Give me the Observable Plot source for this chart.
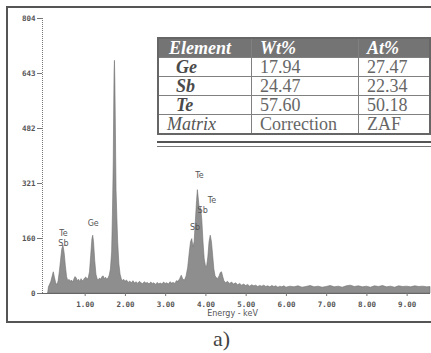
<!DOCTYPE html>
<html>
<head>
<meta charset="utf-8">
<script src="https://cdn.jsdelivr.net/npm/d3@7"></script>
<script src="https://cdn.jsdelivr.net/npm/@observablehq/plot@0.6"></script>
<style>
  html, body { margin: 0; padding: 0; background: #fff; }
  #wrap { position: relative; width: 431px; height: 353px; overflow: hidden; }
  #chart svg { display: block; }
  #tbl { position: absolute; left: 157px; top: 37px; border-collapse: collapse;
         font-family: "Liberation Serif", "Times New Roman", "DejaVu Serif", serif; font-size: 18px; color: #666;
         border: 2px solid #666; background: #fff; }
  #tbl td, #tbl th { border: 1px solid #808080; padding: 0 0 0 8px; height: 18px; line-height: 18px;
         text-align: left; white-space: nowrap; }
  #tbl th { background: #747474; color: #fff; font-style: italic; font-weight: bold; }
  #tbl td.el { font-style: italic; font-weight: bold; color: #4a4a4a; padding-left: 17px; }
  #tbl tr:last-child td.el { font-weight: normal; padding-left: 8px; color: #555; }
  #tbl th:first-child { padding-left: 10px; }
  #shadow { position: absolute; left: 157px; top: 141px; width: 280px; height: 3px;
            border-top: 2px solid #555; border-bottom: 1px solid #777; }
  #cap { position: absolute; left: 0; top: 325px; width: 431px; text-align: center;
         font-family: "Liberation Serif", "DejaVu Serif", serif; font-size: 22px; color: #444;
         padding-left: 12px; box-sizing: border-box; line-height: 28px; }
</style>
</head>
<body>
<div id="wrap">
  <div id="chart"></div>
  <table id="tbl"></table>
  <div id="shadow"></div>
  <div id="cap">a)</div>
</div>
<script>
// Spectrum
const energy = [0.08,0.10,0.13,0.16,0.19,0.22,0.25,0.28,0.31,0.34,0.37,0.40,0.43,0.46,0.49,0.52,0.55,0.58,0.61,0.64,0.67,0.70,0.73,0.76,0.79,0.82,0.85,0.88,0.91,0.94,0.97,1.00,1.03,1.06,1.09,1.12,1.15,1.18,1.20,1.22,1.25,1.28,1.31,1.34,1.37,1.40,1.43,1.46,1.49,1.52,1.55,1.58,1.61,1.64,1.67,1.69,1.71,1.72,1.73,1.74,1.75,1.76,1.77,1.78,1.80,1.82,1.85,1.88,1.91,1.94,1.97,2.00,2.04,2.08,2.12,2.16,2.20,2.24,2.28,2.32,2.36,2.40,2.44,2.48,2.52,2.56,2.60,2.64,2.68,2.72,2.76,2.80,2.84,2.88,2.92,2.96,3.00,3.04,3.08,3.12,3.16,3.20,3.24,3.28,3.32,3.36,3.40,3.44,3.48,3.52,3.56,3.60,3.63,3.66,3.69,3.72,3.75,3.78,3.80,3.82,3.85,3.88,3.91,3.94,3.97,4.00,4.03,4.06,4.09,4.12,4.15,4.18,4.21,4.24,4.27,4.30,4.34,4.37,4.40,4.43,4.46,4.50,4.55,4.60,4.65,4.70,4.75,4.80,4.85,4.90,4.95,5.00,5.05,5.10,5.15,5.20,5.25,5.30,5.35,5.40,5.45,5.50,5.55,5.60,5.65,5.70,5.75,5.80,5.85,5.90,5.95,6.00,6.10,6.20,6.30,6.40,6.50,6.60,6.70,6.80,6.90,7.00,7.10,7.20,7.30,7.40,7.50,7.60,7.70,7.80,7.90,8.00,8.10,8.20,8.30,8.40,8.50,8.60,8.70,8.80,8.90,9.00,9.10,9.20,9.30,9.40,9.50,9.58];
const counts = [0,18,26,34,48,62,45,30,24,35,62,95,128,140,118,80,48,36,40,34,38,32,40,48,44,36,40,33,42,36,38,44,47,40,45,62,110,158,169,150,95,55,42,38,44,40,48,50,42,46,40,44,52,70,120,230,380,520,640,680,620,520,400,300,220,150,85,55,42,36,40,34,38,31,35,30,36,29,33,28,34,30,27,33,29,31,26,32,28,30,25,31,27,29,26,32,28,30,26,33,29,31,28,36,34,42,52,40,38,50,75,120,150,159,135,150,210,270,302,280,245,250,215,150,100,80,78,105,150,169,150,110,70,50,45,42,50,60,62,48,36,30,34,28,32,26,30,24,28,23,26,22,25,20,24,21,23,19,22,20,23,19,21,18,22,19,21,17,20,18,21,17,20,18,21,17,19,22,18,20,17,19,22,18,20,17,21,23,19,21,18,20,17,21,19,22,18,20,17,21,19,20,18,21,19,20,18,19];

// Axes
const xDomain = [-0.06, 9.58];
const yDomain = [0, 803.75];
const xTicks = [1, 2, 3, 4, 5, 6, 7, 8, 9];
const yTickValues = [0, 160.75, 321.5, 482.25, 643, 803.75];
const yTickLabels = ["0", "160", "321", "482", "643", "804"];

// Peak labels
const peakText = ["Te", "Sb", "Ge", "Te", "Te", "Sb", "Sb"];
const peakE    = [0.46, 0.46, 1.20, 3.84, 4.15, 3.92, 3.73];
const peakC    = [176, 146, 206, 345, 272, 242, 192];

// Table
const tableHeader = ["Element", "Wt%", "At%"];
const tableElements = ["Ge", "Sb", "Te", "Matrix"];
const tableWt = ["17.94", "24.47", "57.60", "Correction"];
const tableAt = ["27.47", "22.34", "50.18", "ZAF"];

const spectrum = energy.map((e, i) => ({e, c: counts[i]}));
const labels = peakText.map((t, i) => ({t, e: peakE[i], c: peakC[i]}));

const plot = Plot.plot({
  width: 431,
  height: 325,
  marginLeft: 42,
  marginRight: 1,
  marginTop: 18,
  marginBottom: 32,
  style: {fontFamily: "DejaVu Sans Mono", fontSize: "7.5px", fontWeight: "bold", color: "#555", background: "transparent"},
  x: {domain: xDomain},
  y: {domain: yDomain},
  marks: [
    Plot.areaY(spectrum, {x: "e", y: "c", fill: "#8e8e8e", stroke: "#707070", strokeWidth: 0.6}),
    Plot.ruleY([0], {stroke: "#666", strokeWidth: 1.2}),
    Plot.ruleX([xDomain[0]], {y1: yDomain[0], y2: yDomain[1], stroke: "#777", strokeDasharray: "1,1", strokeWidth: 1}),
    Plot.axisY({ticks: yTickValues, tickFormat: (d, i) => yTickLabels[i], tickSize: 5, tickPadding: 2, label: null, stroke: "#777"}),
    Plot.axisX({ticks: xTicks, tickFormat: d3.format(".2f"), tickSize: 3, tickPadding: 5, label: null, stroke: "#777"}),
    Plot.text(["Energy - keV"], {frameAnchor: "bottom", dx: -4, dy: 22, fontFamily: "DejaVu Sans", fontSize: 8, fontWeight: "normal", fill: "#555"}),
    Plot.text(labels, {x: "e", y: "c", text: "t", fontFamily: "DejaVu Sans", fontSize: 8, fontWeight: "normal", fill: "#555"})
  ]
});
document.getElementById("chart").appendChild(plot);

// outer frame
d3.select(plot).append("rect")
  .attr("x", 7).attr("y", 7).attr("width", 440).attr("height", 315)
  .attr("fill", "none").attr("stroke", "#555").attr("stroke-width", 2);

// build table
const tbl = d3.select("#tbl");
const hr = tbl.append("tr");
hr.append("th").style("width", "82px").text(tableHeader[0]);
hr.append("th").style("width", "98px").text(tableHeader[1]);
hr.append("th").style("width", "62px").text(tableHeader[2]);
tableElements.forEach((el, i) => {
  const r = tbl.append("tr");
  r.append("td").attr("class", "el").text(el);
  r.append("td").text(tableWt[i]);
  r.append("td").text(tableAt[i]);
});
</script>
</body>
</html>
